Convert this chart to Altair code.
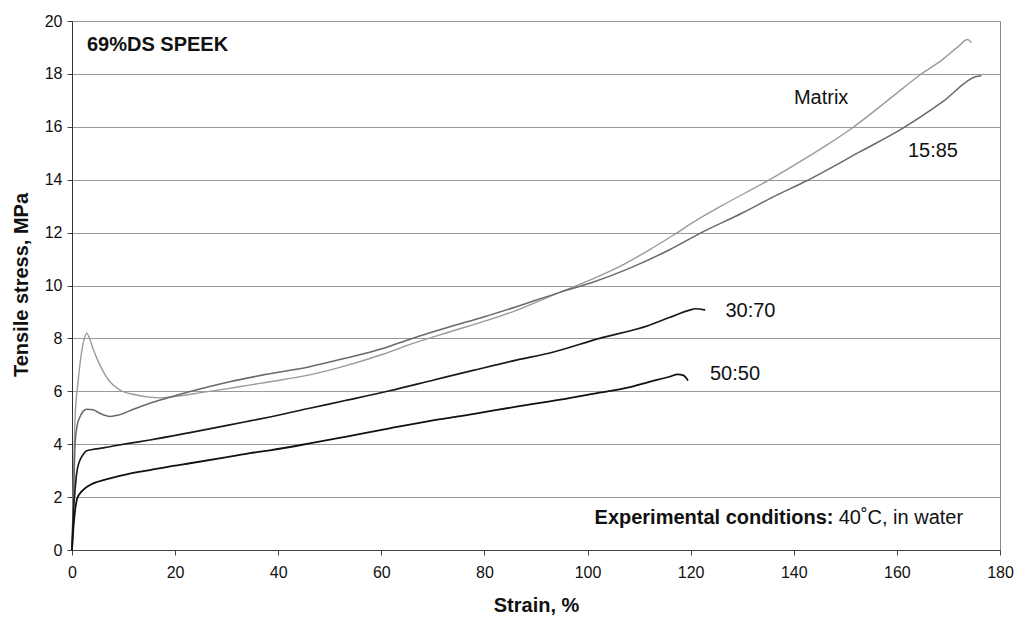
import altair as alt
import pandas as pd

# ---------------- data ----------------
matrix_x = [0, 0.3, 0.6, 1.2, 1.8, 2.4, 2.85, 3.3, 4.1, 5.4, 7.4, 9.3, 12.5, 15, 17.1, 20.9, 25, 30.6, 38, 46.1,
            53, 60.3, 66, 73.3, 80, 86.2, 94.6, 101, 107.5, 112, 116.6, 121, 126.9, 135.3, 140.5, 146.3, 150.8,
            159.2, 164.4, 168.9, 172, 173.7, 174.4]
matrix_y = [0, 2.8, 5.0, 6.4, 7.4, 8.0, 8.2, 8.05, 7.6, 7.0, 6.35, 6.05, 5.86, 5.78, 5.75, 5.83, 5.95, 6.11, 6.35, 6.62,
            6.96, 7.4, 7.8, 8.25, 8.65, 9.06, 9.74, 10.25, 10.85, 11.35, 11.9, 12.45, 13.11, 14.0, 14.6, 15.3, 15.88,
            17.15, 17.95, 18.55, 19.05, 19.3, 19.2]

s1585_x = [0, 0.3, 0.6, 1.0, 1.55, 2.2, 2.85, 4.1, 5.4, 7.4, 9, 12, 15.1, 18, 22.9, 30.6, 38, 46.1, 53, 60.3, 66,
           73.3, 80, 86.2, 94.6, 101, 107.5, 115.9, 121.8, 130.1, 136, 142.4, 152.8, 161.1, 168.9, 175.4, 176.3]
s1585_y = [0, 2.0, 4.0, 4.7, 5.04, 5.25, 5.32, 5.3, 5.17, 5.05, 5.1, 5.33, 5.55, 5.72, 5.99, 6.36, 6.65, 6.93, 7.25,
           7.62, 8.0, 8.44, 8.82, 9.2, 9.74, 10.12, 10.6, 11.35, 11.97, 12.75, 13.35, 13.95, 15.05, 15.94, 16.95, 17.9, 17.93]

s3070_x = [0, 0.3, 0.6, 0.9, 1.2, 1.55, 2.2, 2.85, 4, 5.4, 8, 11, 15.1, 22.9, 30.6, 34.5, 38.4, 46.1, 53, 61.6, 70,
           78, 86.2, 92.7, 102.3, 112, 116, 119.8, 121, 122.7]
s3070_y = [0, 1.5, 2.3, 2.9, 3.2, 3.4, 3.62, 3.75, 3.8, 3.84, 3.93, 4.03, 4.16, 4.44, 4.73, 4.88, 5.03, 5.36, 5.65,
           6.02, 6.42, 6.8, 7.18, 7.45, 8.0, 8.5, 8.8, 9.07, 9.12, 9.08]

s5050_x = [0, 0.3, 0.6, 1, 1.55, 2.5, 3.5, 5, 7.4, 10.6, 15.1, 19.6, 22.9, 30.6, 34.5, 38.4, 46.1, 53, 61.6, 70, 78,
           86.2, 92.7, 102.3, 108, 112, 115.9, 117.5, 118.6, 119.4]
s5050_y = [0, 0.9, 1.5, 1.95, 2.14, 2.33, 2.46, 2.58, 2.71, 2.86, 3.02, 3.18, 3.28, 3.53, 3.66, 3.77, 4.03, 4.28, 4.6,
           4.9, 5.15, 5.42, 5.62, 5.95, 6.15, 6.36, 6.55, 6.64, 6.6, 6.43]

series_names = ["Matrix", "15:85", "30:70", "50:50"]
series_colors = ["#9a9a9a", "#6a6a6a", "#1a1a1a", "#111111"]
series_widths = [1.4, 1.8, 2.6, 4.0]

x_ticks = [0, 20, 40, 60, 80, 100, 120, 140, 160, 180]
y_ticks = [0, 2, 4, 6, 8, 10, 12, 14, 16, 18, 20]

# curve labels (text, strain, stress)
label_text = ["Matrix", "15:85", "30:70", "50:50"]
label_x = [145.3, 167.0, 131.6, 128.6]
label_y = [17.1, 15.1, 9.05, 6.65]

title_text = "69%DS SPEEK"
title_x, title_y = 2.9, 19.1
cond_bold = "Experimental conditions:"
cond_plain = "40˚C, in water"
cond_x_bold, cond_x_plain, cond_y = 147.7, 148.7, 1.2

FONT = "Liberation Sans"
ANN = 20

# ---------------- build tables ----------------
rows = []
for name, xs, ys in zip(series_names, [matrix_x, s1585_x, s3070_x, s5050_x],
                        [matrix_y, s1585_y, s3070_y, s5050_y]):
    for i, (x, y) in enumerate(zip(xs, ys)):
        rows.append({"series": name, "i": i, "strain": x, "stress": y})
df = pd.DataFrame(rows)

labels_df = pd.DataFrame({"text": label_text, "strain": label_x, "stress": label_y})

xscale = alt.Scale(domain=[0, 180], nice=False, zero=False)
yscale = alt.Scale(domain=[0, 20], nice=False, zero=False)

lines = alt.Chart(df).mark_line(strokeJoin="round", strokeCap="round", interpolate="monotone").encode(
    x=alt.X("strain:Q", scale=xscale,
            axis=alt.Axis(values=x_ticks, title="Strain, %", grid=False, tickSize=5, labelPadding=9,
                          labelFlush=False,
                          titleX=464, titleY=55, titleBaseline="middle", titleAnchor="start",
                          titleAlign="center", domainColor="#444", tickColor="#444")),
    y=alt.Y("stress:Q", scale=yscale,
            axis=alt.Axis(values=y_ticks, title="Tensile stress, MPa", grid=True, tickSize=5, labelPadding=5,
                          labelFlush=False,
                          titleX=-51, titleY=263.5, titleAngle=-90, titleBaseline="middle",
                          titleAlign="center", gridColor="#9a9a9a", gridWidth=1,
                          domainColor="#333", tickColor="#444")),
    color=alt.Color("series:N", scale=alt.Scale(domain=series_names, range=series_colors), legend=None),
    strokeWidth=alt.StrokeWidth("series:N", scale=alt.Scale(domain=series_names, range=series_widths), legend=None),
    order=alt.Order("i:Q"),
)

curve_labels = alt.Chart(labels_df).mark_text(font=FONT, fontSize=ANN, color="#111", align="center",
                                              baseline="middle").encode(
    x=alt.X("strain:Q", scale=xscale), y=alt.Y("stress:Q", scale=yscale), text="text:N")

title_lbl = alt.Chart(pd.DataFrame({"text": [title_text], "strain": [title_x], "stress": [title_y]})).mark_text(
    font=FONT, fontSize=ANN, fontWeight="bold", color="#111", align="left", baseline="middle").encode(
    x=alt.X("strain:Q", scale=xscale), y=alt.Y("stress:Q", scale=yscale), text="text:N")

cond1 = alt.Chart(pd.DataFrame({"text": [cond_bold], "strain": [cond_x_bold], "stress": [cond_y]})).mark_text(
    font=FONT, fontSize=ANN, fontWeight="bold", color="#111", align="right", baseline="middle").encode(
    x=alt.X("strain:Q", scale=xscale), y=alt.Y("stress:Q", scale=yscale), text="text:N")

cond2 = alt.Chart(pd.DataFrame({"text": [cond_plain], "strain": [cond_x_plain], "stress": [cond_y]})).mark_text(
    font=FONT, fontSize=ANN, color="#111", align="left", baseline="middle").encode(
    x=alt.X("strain:Q", scale=xscale), y=alt.Y("stress:Q", scale=yscale), text="text:N")

chart = alt.layer(lines, curve_labels, title_lbl, cond1, cond2).properties(
    width=928, height=529,
    padding={"left": 72, "top": 21, "right": 15, "bottom": 68},
    autosize=alt.AutoSizeParams(type="none"),
    background="white",
).configure_view(stroke="#888", strokeWidth=1).configure_axis(
    labelFont=FONT, labelFontSize=16, labelColor="#111",
    titleFont=FONT, titleFontSize=20, titleFontWeight="bold", titleColor="#111",
)

chart.save("out.html", embed_options={"renderer": "svg", "actions": False})
